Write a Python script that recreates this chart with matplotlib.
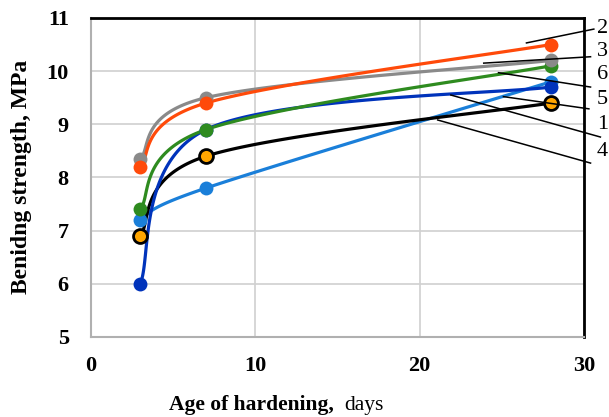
import numpy as np
import matplotlib.pyplot as plt

plt.rcParams['font.family'] = ['Liberation Serif', 'DejaVu Serif']

days = [3, 7, 28]
s1 = [6.0, 8.9, 9.7]
s2 = [8.2, 9.4, 10.5]
s3 = [8.35, 9.5, 10.2]
s4 = [7.2, 7.8, 9.8]
s5 = [6.9, 8.4, 9.4]
s6 = [7.4, 8.9, 10.1]

# curve number, values, colour, marker face
series = [
    ('4', s4, '#1a7fd9', '#1a7fd9'),
    ('5', s5, '#000000', '#ffa500'),
    ('1', s1, '#0033bb', '#0033bb'),
    ('6', s6, '#2e8b1f', '#2e8b1f'),
    ('3', s3, '#8a8a8a', '#8a8a8a'),
    ('2', s2, '#ff4a0a', '#ff4a0a'),
]

# leader lines: point on curve -> label
leaders = {
    '2': ((26.5, 10.53), (30.6, 10.79)),
    '3': ((23.9, 10.15), (30.4, 10.27)),
    '6': ((24.8, 9.97), (30.4, 9.70)),
    '5': ((25.1, 9.52), (30.3, 9.29)),
    '1': ((21.9, 9.55), (31.0, 8.76)),
    '4': ((21.1, 9.08), (30.4, 8.27)),
}
label_y = {'2': 10.81, '3': 10.36, '6': 9.93, '5': 9.46, '1': 8.99, '4': 8.48}


def smooth(xs, ys, n=60):
    # Excel-like smoothed line (Bezier through points)
    p = np.column_stack([xs, ys]).astype(float)
    pts = np.vstack([p[0], p, p[-1]])
    out = []
    t = np.linspace(0, 1, n)[:, None]
    for i in range(len(p) - 1):
        p0, p1, p2, p3 = pts[i], pts[i + 1], pts[i + 2], pts[i + 3]
        c1 = p1 + (p2 - p0) / 6
        c2 = p2 - (p3 - p1) / 6
        seg = ((1 - t) ** 3) * p1 + 3 * ((1 - t) ** 2) * t * c1 + 3 * (1 - t) * t ** 2 * c2 + t ** 3 * p2
        out.append(seg)
    out = np.vstack(out)
    return out[:, 0], out[:, 1]


fig = plt.figure(figsize=(6.09, 4.17), dpi=100)
ax = fig.add_axes([0.1494, 0.192, 0.8095, 0.765])

for name, vals, col, face in series:
    xs, ys = smooth(days, vals)
    ax.plot(xs, ys, color=col, lw=2.3, zorder=3)
    edge = '#000000' if name == '5' else col
    ax.plot(days, vals, 'o', ms=10, mfc=face, mec=edge, mew=2 if name == '5' else 0, zorder=4)

for name, (p_curve, p_lab) in leaders.items():
    ax.plot([p_curve[0], p_lab[0]], [p_curve[1], p_lab[1]], color='black', lw=1.1,
            clip_on=False, zorder=5)
    ax.text(30.8, label_y[name], name, fontsize=16, va='center', ha='left')

ax.set_xlim(0, 30)
ax.set_ylim(5, 11)
ax.set_xticks([0, 10, 20, 30])
ax.set_yticks(range(5, 12))
ax.grid(True, color='#d0d0d0', lw=1.2)
ax.set_axisbelow(True)
ax.tick_params(length=0, labelsize=16)
ax.tick_params(axis='x', pad=14)
ax.tick_params(axis='y', pad=16)
for lab in ax.get_xticklabels() + ax.get_yticklabels():
    lab.set_fontweight('bold')

ax.spines['left'].set_color('#b0b0b0')
ax.spines['bottom'].set_color('#b0b0b0')
ax.spines['left'].set_linewidth(1.5)
ax.spines['bottom'].set_linewidth(1.5)
ax.spines['top'].set_linewidth(2)
ax.spines['right'].set_linewidth(2)

fig.text(0.036, 0.576, 'Benidng strength, MPa', fontsize=17, fontweight='bold',
         rotation=90, ha='center', va='center')
fig.text(0.549, 0.004, 'Age of hardening,', fontsize=15.5, fontweight='bold', ha='right', va='bottom')
fig.text(0.566, 0.004, 'days', fontsize=15.5, ha='left', va='bottom')

fig.savefig('out.png', dpi=100)
